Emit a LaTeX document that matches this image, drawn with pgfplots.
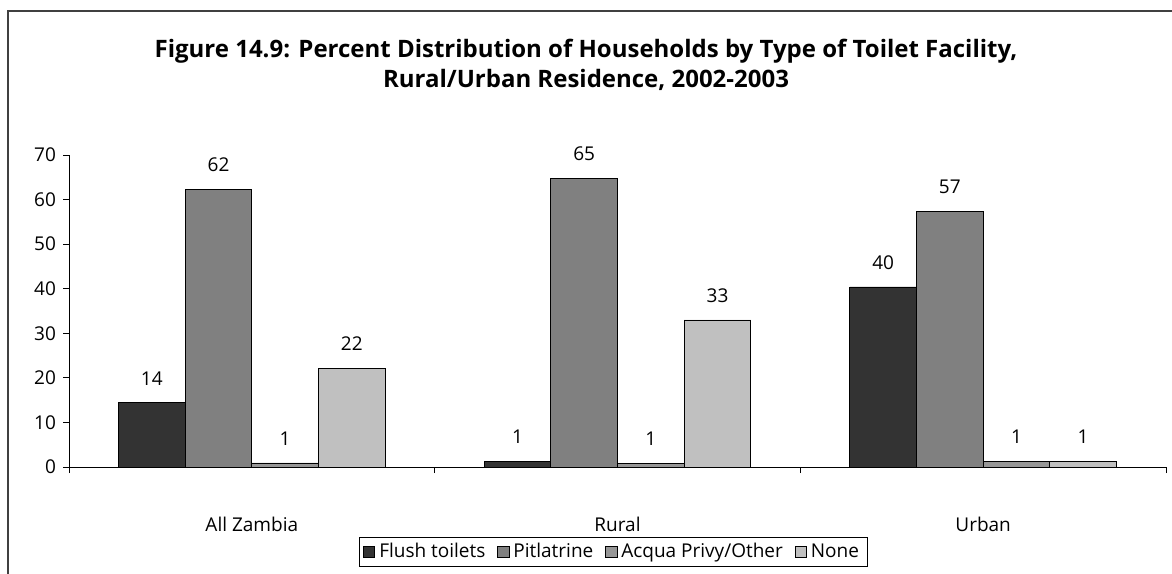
\documentclass[border=0pt]{standalone}
\usepackage{pgfplots}
\pgfplotsset{compat=1.18}
\usepackage{fontspec}
\setmainfont{Open Sans}
\definecolor{cFlush}{HTML}{333333}
\definecolor{cPit}{HTML}{808080}
\definecolor{cAcqua}{HTML}{969696}
\definecolor{cNone}{HTML}{C0C0C0}
\definecolor{frame}{HTML}{404040}
\begin{document}
\begin{tikzpicture}
\useasboundingbox (0,0) rectangle (586pt,286.5pt);
\draw[frame, line width=1pt] (4pt,-2pt) -- (4pt,281pt) -- (590pt,281pt);
\node[align=center, font=\fontsize{12}{15}\selectfont\bfseries] at (293pt,254pt)
  {Figure 14.9: Percent Distribution of Households by Type of Toilet Facility,\\Rural/Urban Residence, 2002-2003};
\begin{axis}[
  at={(34.5pt,53pt)}, anchor=south west,
  scale only axis, width=548.5pt, height=156pt,
  xmin=-0.5, xmax=2.5, ymin=0, ymax=70,
  axis x line*=bottom, axis y line*=left,
  axis line style={black, line width=0.5pt},
  ytick={0,10,...,70},
  xtick={0,1,2},
  xticklabels={All Zambia, Rural, Urban},
  minor xtick={-0.5,0.5,1.5,2.5},
  tick align=outside,
  major tick length=3pt, minor tick length=3pt,
  x tick style={draw=none},
  minor x tick style={draw=black},
  y tick style={black},
  every tick/.style={black},
  xticklabel style={anchor=center, yshift=-25.5pt},
  tick label style={font=\fontsize{9.5}{11}\selectfont},
  /pgf/number format/assume math mode=true,
  ybar=0pt, bar width=0.1823,
  nodes near coords={\pgfmathprintnumber[fixed,precision=0]{\pgfplotspointmeta}},
  every node near coord/.append style={anchor=center, yshift=12.3pt, font=\fontsize{9.5}{11}\selectfont, black},
  legend style={at={(0.496,-0.272)}, anchor=center, legend columns=-1, draw=black,
    font=\fontsize{9.5}{11}\selectfont, inner xsep=2pt, inner ysep=1pt,
    /tikz/every even column/.append style={column sep=4pt}},
  legend image code/.code={\draw[#1, draw=black, line width=0.4pt] (0pt,-2.8pt) rectangle (5.6pt,2.8pt);},
]
\addplot[fill=cFlush, draw=black, line width=0.4pt] coordinates {(0,14.4) (1,1.2) (2,40.4)};
\addplot[fill=cPit, draw=black, line width=0.4pt] coordinates {(0,62.3) (1,64.8) (2,57.4)};
\addplot[fill=cAcqua, draw=black, line width=0.4pt] coordinates {(0,0.9) (1,0.8) (2,1.2)};
\addplot[fill=cNone, draw=black, line width=0.4pt] coordinates {(0,22.2) (1,33.0) (2,1.2)};
\legend{Flush toilets, Pitlatrine, Acqua Privy/Other, None}
\end{axis}
\end{tikzpicture}
\end{document}
